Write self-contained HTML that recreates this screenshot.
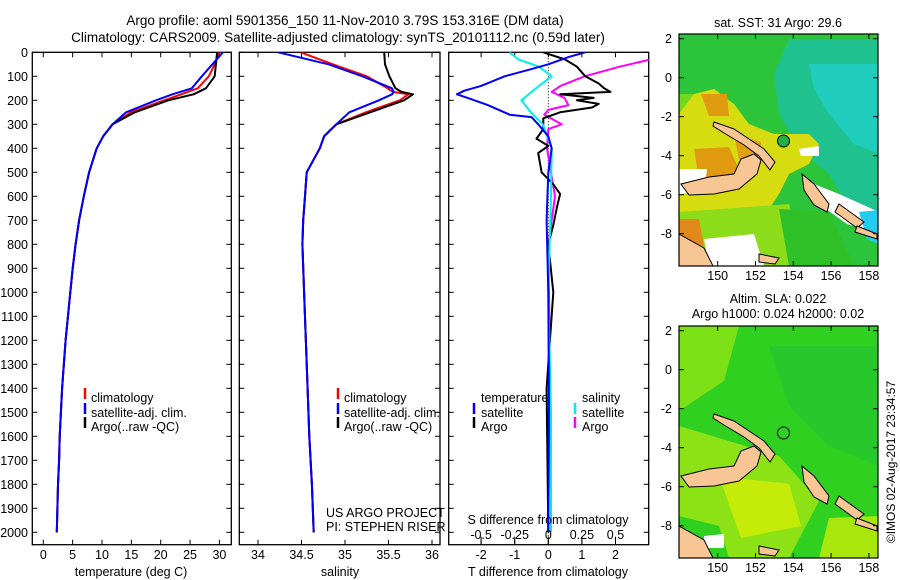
<!DOCTYPE html>
<html><head><meta charset="utf-8"><style>
html,body{margin:0;padding:0;background:#fff;}
svg{display:block;font-family:"Liberation Sans",Arial,sans-serif;}
text{fill:#000;}
</style></head><body>
<svg id="chart" width="900" height="580" viewBox="0 0 900 580" xmlns="http://www.w3.org/2000/svg">
<text x="345" y="25" font-size="13.5" text-anchor="middle">Argo profile: aoml 5901356_150 11-Nov-2010 3.79S 153.316E (DM data)</text>
<text x="338" y="42" font-size="13.5" text-anchor="middle">Climatology: CARS2009. Satellite-adjusted climatology: synTS_20101112.nc (0.59d later)</text>
<g id="panels"></g>
<g id="maps"></g>
</svg>
<script>
// ---------- data ----------
const tDepth = [0,50,100,150,175,200,250,300,350,400,500,600,700,800,900,1000,1200,1400,1500,1600,1700,1800,1900,2000];
const tArgo  = [29.6,29.4,29.2,27.7,25.6,21.3,15.6,11.8,10.2,9.1,7.8,6.9,6.1,5.5,5.0,4.6,3.8,3.2,3.0,2.8,2.7,2.5,2.4,2.3];
const tClim  = [29.9,29.2,28.2,26.3,23.5,20.6,14.9,11.8,10.2,9.1,7.8,6.9,6.1,5.5,5.0,4.6,3.8,3.2,3.0,2.8,2.7,2.5,2.4,2.3];
const tSat   = [30.6,28.8,27.0,25.3,22.0,19.2,14.1,11.8,10.2,9.1,7.8,6.9,6.1,5.5,5.0,4.6,3.8,3.2,3.0,2.8,2.7,2.5,2.4,2.3];

const sDepth = [0,50,100,150,165,175,200,250,300,350,400,500,600,700,800,1000,1400,1600,1800,2000];
const sArgo  = [35.45,35.46,35.51,35.58,35.65,35.78,35.68,35.29,34.9,34.76,34.71,34.56,34.54,34.52,34.51,34.53,34.57,34.59,34.62,34.64];
const sClim  = [34.49,34.86,35.25,35.49,35.55,35.73,35.63,35.24,34.9,34.76,34.71,34.56,34.54,34.52,34.51,34.53,34.57,34.59,34.62,34.64];
const sSat   = [34.23,34.81,35.2,35.54,35.56,35.54,35.39,35.05,34.9,34.76,34.71,34.56,34.54,34.52,34.51,34.53,34.57,34.59,34.62,34.64];

const dtSatDepth = [0,20,50,70,100,140,160,175,190,220,260,270,300,350,400,500,700,1000,1500,2000];
const dtSat      = [1.1,0.6,0,-0.5,-1.3,-2.0,-2.5,-2.72,-2.4,-1.8,-1.15,-0.5,-0.3,0,0.1,0,-0.05,0,0.02,0];
const dtArgoDepth= [0,30,60,100,130,150,165,175,190,200,215,230,250,275,320,360,390,420,500,550,590,650,720,800,1000,1400,2000];
const dtArgo     = [-0.15,0.5,0.85,1.1,1.5,1.66,1.85,0.35,1.35,0.85,1.5,1.3,0.35,-0.15,-0.15,-0.35,0,-0.3,-0.2,0.15,0.35,0.25,0.15,0,0.15,-0.05,0];
const dsSatDepth = [0,30,60,100,140,200,250,300,400,600,1000,1500,2000];
const dsSat      = [-0.29,-0.22,-0.07,0.025,-0.07,-0.2,-0.13,-0.04,0.025,0.02,0,0.02,0.02];
const dsArgoDepth= [0,30,60,100,140,165,190,220,240,260,300,320,400,600,800,1200,2000];
const dsArgo     = [0.9,0.76,0.53,0.27,0.09,0.025,0.12,0.15,0,-0.03,0.1,0,-0.01,0.05,0,0.01,0];

const depthTicks = [0,100,200,300,400,500,600,700,800,900,1000,1100,1200,1300,1400,1500,1600,1700,1800,1900,2000];
const tempTicks = [0,5,10,15,20,25,30];
const salTicks = [34,34.5,35,35.5,36];
const dtTicks = [-2,-1,0,1,2];
const dsTicks = [-0.5,-0.25,0,0.25,0.5];
const latTicks = [2,0,-2,-4,-6,-8];
const lonTicks = [150,152,154,156,158];

// ---------- helpers ----------
const NS="http://www.w3.org/2000/svg";
function mk(tag,attrs,parent){const e=document.createElementNS(NS,tag);for(const k in attrs)e.setAttribute(k,attrs[k]);parent.appendChild(e);return e;}
const TOP=52.3, BOT=544.7;
const yD = d => TOP + d*0.24;
const panelsG=document.getElementById('panels');

function frame(x0,x1,name){
  const r=mk('rect',{x:x0,y:TOP,width:x1-x0,height:BOT-TOP,fill:'none',stroke:'#000','stroke-width':1.3},panelsG);
  
  
}
function depthAxis(x0,x1,labels){
  depthTicks.forEach(d=>{
    const y=yD(d);
    mk('line',{x1:x0,y1:y,x2:x0+5,y2:y,stroke:'#000'},panelsG);
    mk('line',{x1:x1-5,y1:y,x2:x1,y2:y,stroke:'#000'},panelsG);
    if(labels){const t=mk('text',{x:28,y:y+4.5,'font-size':12.5,'text-anchor':'end'},panelsG);t.textContent=d;
      
      }
  });
}
function xAxis(ticks,fx,fmt,name){
  ticks.forEach(v=>{
    const x=fx(v);
    mk('line',{x1:x,y1:BOT,x2:x,y2:BOT-5,stroke:'#000'},panelsG);
    mk('line',{x1:x,y1:TOP,x2:x,y2:TOP+5,stroke:'#000'},panelsG);
    const t=mk('text',{x:x,y:559,'font-size':12.5,'text-anchor':'middle'},panelsG);t.textContent=fmt(v);
    
    
  });
}
function series(depths,vals,fx,color,name,w){
  let pts=depths.map((d,i)=>fx(vals[i]).toFixed(1)+','+yD(d).toFixed(1)).join(' ');
  const p=mk('polyline',{points:pts,fill:'none',stroke:color,'stroke-width':w||2,'stroke-linejoin':'round','clip-path':'url(#'+name.split('-')[0]+'clip)'},panelsG);
  
  
}
function label(x,y,txt,name,size,anchor){
  const t=mk('text',{x:x,y:y,'font-size':size||12.5,'text-anchor':anchor||'start'},panelsG);t.textContent=txt;
  
  
  return t;
}
function legendTick(x,y,color,name){
  const l=mk('line',{x1:x,y1:y-10,x2:x,y2:y+1,stroke:color,'stroke-width':2.5},panelsG);
  
  
}
const defs=mk('defs',{},document.getElementById('chart'));
[['p1',32.3,231.3],['p2',239.3,440],['p3',448.7,648.7]].forEach(([id,a,b])=>{
  const c=mk('clipPath',{id:id+'clip'},defs);mk('rect',{x:a,y:TOP,width:b-a,height:BOT-TOP},c);
});

// ---------- panel 1: temperature ----------
const fT = v => 43.3 + v*5.87;
frame(32.3,231.3,'temperature-panel-frame');
depthAxis(32.3,231.3,true);
xAxis(tempTicks,fT,v=>v,'temperature-tick-label');
series(tDepth,tClim,fT,'#ff0000','p1-climatology-line');
series(tDepth,tArgo,fT,'#000000','p1-argo-line');
series(tDepth,tSat,fT,'#0000ff','p1-satellite-line');
label(131,576,'temperature (deg C)','temperature-axis-title',12.5,'middle');
legendTick(85,398,'#f00','legend-climatology-swatch');label(91,402,'climatology','legend-climatology-label');
legendTick(85,413,'#00f','legend-satellite-swatch');label(91,417,'satellite-adj. clim.','legend-satellite-label');
legendTick(85,427,'#000','legend-argo-swatch');label(91,431,'Argo(..raw -QC)','legend-argo-label');

// ---------- panel 2: salinity ----------
const fS = v => 258 + (v-34)*87;
frame(239.3,440,'salinity-panel-frame');
depthAxis(239.3,440,false);
xAxis(salTicks,fS,v=>v,'salinity-tick-label');
series(sDepth,sClim,fS,'#ff0000','p2-climatology-line');
series(sDepth,sArgo,fS,'#000000','p2-argo-line');
series(sDepth,sSat,fS,'#0000ff','p2-satellite-line');
label(340,576,'salinity','salinity-axis-title',12.5,'middle');
legendTick(338,398,'#f00','legend2-climatology-swatch');label(344,402,'climatology','legend2-climatology-label');
legendTick(338,413,'#00f','legend2-satellite-swatch');label(344,417,'satellite-adj. clim.','legend2-satellite-label');
legendTick(338,427,'#000','legend2-argo-swatch');label(344,431,'Argo(..raw -QC)','legend2-argo-label');
label(326,517,'US ARGO PROJECT','project-credit');
label(326,531,'PI: STEPHEN RISER','pi-credit');

// ---------- panel 3: differences ----------
const fDT = v => 548.3 + v*33.6;
const fDS = v => 548.3 + v*4*33.6;
frame(448.7,648.7,'difference-panel-frame');
depthAxis(448.7,648.7,false);
xAxis(dtTicks,fDT,v=>v,'t-difference-tick-label');
const zl=mk('line',{x1:548.3,y1:TOP,x2:548.3,y2:BOT,stroke:'#000','stroke-dasharray':'1,2'},panelsG);


series(dsArgoDepth,dsArgo,fDS,'#ff00ff','p3-s-argo-line');
series(dtArgoDepth,dtArgo,fDT,'#000000','p3-t-argo-line');
series(dsSatDepth,dsSat,fDS,'#00eeee','p3-s-satellite-line');
series(dtSatDepth,dtSat,fDT,'#0000ff','p3-t-satellite-line');
dsTicks.forEach(v=>{
  const x=fDS(v);
  mk('line',{x1:x,y1:BOT,x2:x,y2:BOT-8,stroke:'#000'},panelsG);
  label(x,539,String(v),'s-difference-tick-label',12.5,'middle');
});
label(548,524,'S difference from climatology','s-difference-axis-title',12.5,'middle');
label(548,576,'T difference from climatology','t-difference-axis-title',12.5,'middle');
label(481,402,'temperature','legend3-temperature-header');
legendTick(474,413,'#00f','legend3-t-satellite-swatch');label(481,417,'satellite','legend3-t-satellite-label');
legendTick(474,427,'#000','legend3-t-argo-swatch');label(481,431,'Argo','legend3-t-argo-label');
label(582,402,'salinity','legend3-salinity-header');
legendTick(575,413,'#00eeee','legend3-s-satellite-swatch');label(582,417,'satellite','legend3-s-satellite-label');
legendTick(575,427,'#ff00ff','legend3-s-argo-swatch');label(582,431,'Argo','legend3-s-argo-label');

// ---------- maps ----------
const mapsG=document.getElementById('maps');
const land=[
 [[2,150],[30,143],[55,140],[62,125],[75,120],[82,126],[78,140],[60,155],[35,160],[10,161]],
 [[35,88],[55,95],[70,105],[85,115],[96,128],[91,136],[80,122],[65,111],[45,99],[34,92]],
 [[123,140],[135,150],[150,170],[148,178],[135,171],[125,156]],
 [[160,170],[185,188],[178,194],[156,178]],
 [[178,192],[198,200],[198,205],[176,198]],
 [[0,200],[25,214],[34,232],[0,232]],
 [[80,220],[100,224],[96,230],[80,228]]
];
function drawMap(ox,oy,w,h,blocks,name,lonlabelY){
  const g=mk('g',{transform:'translate('+ox+','+oy+')'},mapsG);
  
  
  const cp=mk('clipPath',{id:name+'-clip'},defs);mk('rect',{x:0,y:0,width:w,height:h},cp);
  const inner=mk('g',{'clip-path':'url(#'+name+'-clip)'},g);
  blocks.forEach(([col,pts])=>mk('polygon',{points:pts.map(p=>p.join(',')).join(' '),fill:col},inner));
  land.forEach(pts=>{const p=mk('polygon',{points:pts.map(q=>q.join(',')).join(' '),fill:'#f8c594',stroke:'#000','stroke-width':1},inner);
    
    });
  mk('circle',{cx:104.5,cy:107,r:6,fill:name==='sst-map'?'#22b040':'none',stroke:'#000'},inner);
  mk('rect',{x:0,y:0,width:w,height:h,fill:'none',stroke:'#000','stroke-width':1.2},g);
  latTicks.forEach(v=>{const y=(2-v)*19.5+4.7;
    mk('line',{x1:0,y1:y,x2:5,y2:y,stroke:'#000'},g);mk('line',{x1:w-5,y1:y,x2:w,y2:y,stroke:'#000'},g);
    const t=mk('text',{x:-7,y:y+4.5,'font-size':12.5,'text-anchor':'end'},g);t.textContent=v;
    
    });
  lonTicks.forEach(v=>{const x=38.7+(v-150)*18.9;
    mk('line',{x1:x,y1:0,x2:x,y2:5,stroke:'#000'},g);mk('line',{x1:x,y1:h-5,x2:x,y2:h,stroke:'#000'},g);
    const t=mk('text',{x:x,y:lonlabelY,'font-size':12.5,'text-anchor':'middle'},g);t.textContent=v;
    
    });
}
const sstBlocks=[
 ['#2cc43a',[[0,0],[200,0],[200,232],[0,232]]],
 ['#1fc28e',[[110,5],[200,5],[200,190],[170,175],[150,140],[120,115],[100,80],[95,40]]],
 ['#20ccbc',[[130,30],[200,30],[200,120],[175,110],[150,80],[135,55]]],
 ['#72d81c',[[0,80],[15,60],[0,60]]],
 ['#d6dc10',[[15,60],[35,55],[55,70],[70,90],[95,100],[130,100],[140,110],[130,130],[110,140],[100,160],[90,175],[70,182],[40,186],[0,190],[0,80]]],
 ['#e09a10',[[15,115],[50,113],[62,140],[40,152],[20,146]]],
 ['#e09a10',[[22,60],[48,60],[50,82],[30,82]]],
 ['#e0a014',[[55,100],[82,108],[82,130],[60,126]]],
 ['#8cdc1a',[[0,178],[110,170],[125,232],[0,232]]],
 ['#2fc028',[[100,175],[150,178],[175,232],[110,232]]],
 ['#ffffff',[[0,135],[28,135],[25,158],[0,160]]],
 ['#ffffff',[[25,205],[75,200],[85,232],[30,232]]],
 ['#ffffff',[[135,150],[160,160],[200,178],[200,200],[168,190],[140,170]]],
 ['#ffffff',[[120,115],[140,112],[140,122],[122,122]]],
 ['#22ccee',[[180,178],[200,176],[200,210],[188,205]]],
 ['#e08818',[[0,185],[20,185],[25,212],[0,205]]]
];
const slaBlocks=[
 ['#2fd020',[[0,0],[200,0],[200,232],[0,232]]],
 ['#7ce016',[[0,0],[60,0],[45,55],[0,85]]],
 ['#26c82c',[[90,20],[200,20],[200,140],[150,120],[110,80]]],
 ['#8ce214',[[0,100],[100,130],[140,175],[110,232],[0,232]]],
 ['#c4ec08',[[40,150],[110,158],[122,200],[62,212]]],
 ['#2fd020',[[0,190],[40,200],[50,232],[0,232]]],
 ['#a8e60c',[[150,192],[200,190],[200,232],[140,232]]],
 ['#ffffff',[[25,210],[45,208],[45,222],[25,222]]]
];
drawMap(679,34,199,232,sstBlocks,'sst-map',246);
drawMap(679,326,199,232,slaBlocks,'sla-map',246);
function mtext(x,y,txt,name,extra){const t=mk('text',Object.assign({x:x,y:y,'font-size':12.5,'text-anchor':'middle'},extra||{}),mapsG);t.textContent=txt;
  
  }
mtext(778,27,'sat. SST: 31  Argo: 29.6','sst-map-title');
mtext(778,303,'Altim. SLA: 0.022','sla-map-title');
mtext(778,318,'Argo h1000: 0.024 h2000: 0.02','sla-map-subtitle');
mtext(0,0,'©IMOS 02-Aug-2017 23:34:57','copyright-stamp',{transform:'translate(895,462) rotate(-90)','font-size':12});
</script>
</body></html>
